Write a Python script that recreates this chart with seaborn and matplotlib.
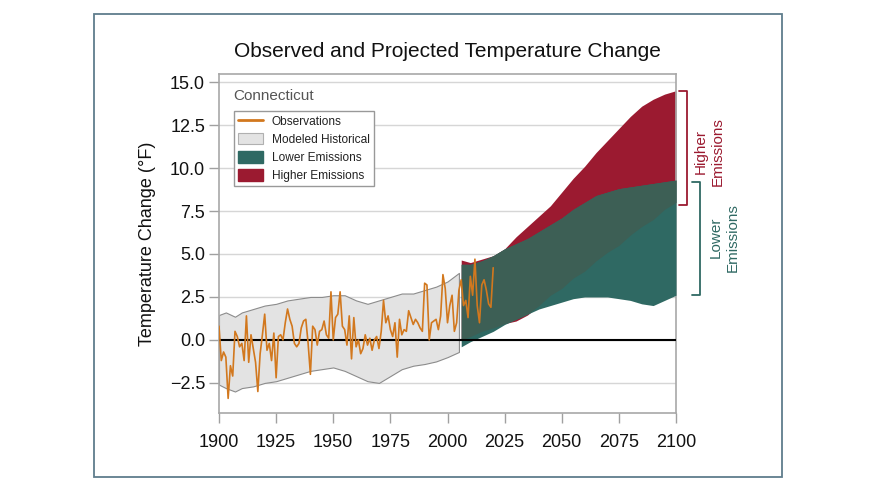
import numpy as np
import pandas as pd
import matplotlib
matplotlib.use("Agg")
import matplotlib.pyplot as plt
from matplotlib.lines import Line2D
from matplotlib.patches import Patch, Rectangle
import seaborn as sns

# observed annual temperature change, Connecticut (deg F)
obs_years = list(range(1900, 2021))
obs_values = [
    0.8, -1.2, -0.7, -1.0, -3.4, -1.5, -2.1, 0.5, 0.2, -0.4,
    -0.2, -1.2, 1.4, -1.3, 0.3, -0.5, -1.3, -3.0, -0.8, 0.3,
    1.5, -0.6, -0.2, -1.2, 0.4, -2.2, 0.2, 0.3, 0.0, 1.0,
    1.8, 1.2, 0.8, -0.2, -0.4, -0.2, 0.7, 1.1, 1.2, -0.2,
    -2.0, 0.8, 0.6, -0.3, 0.5, 0.6, 1.1, 0.3, 0.1, 2.8,
    0.0, 1.3, 1.5, 2.8, 0.8, 0.6, -0.3, 1.4, -1.1, 1.3,
    -0.4, 0.0, -0.8, -0.5, 0.3, -0.3, 0.1, -0.6, 0.0, 0.2,
    -0.5, 0.5, 2.3, 1.0, 1.4, 0.6, 0.2, 1.0, -1.0, 1.2,
    0.3, 0.6, 0.5, 1.7, 1.3, 0.9, 1.2, 1.0, 0.7, 0.5,
    3.3, 3.2, 0.0, 1.0, 1.1, 1.2, 0.6, 1.4, 3.8, 3.0,
    1.0, 2.0, 2.6, 0.5, 1.0, 2.9, 3.5, 2.0, 2.3, 1.3,
    3.7, 2.6, 4.7, 2.0, 1.0, 3.2, 3.5, 2.9, 2.1, 1.9, 4.2,
]

# modeled historical range
hist_years = [1900, 1903, 1907, 1910, 1915, 1920, 1925, 1930, 1935, 1940, 1945, 1950,
              1955, 1960, 1965, 1970, 1975, 1980, 1985, 1990, 1995, 2000, 2005]
hist_upper = [1.45, 1.6, 1.35, 1.6, 1.8, 2.0, 2.1, 2.3, 2.4, 2.5, 2.5, 2.6,
              2.6, 2.3, 2.1, 2.3, 2.5, 2.7, 2.7, 2.9, 3.1, 3.4, 3.9]
hist_lower = [-2.6, -2.8, -3.0, -2.8, -2.7, -2.5, -2.4, -2.2, -2.0, -1.8, -1.7, -1.6,
              -1.8, -2.1, -2.4, -2.5, -2.1, -1.7, -1.5, -1.4, -1.25, -1.0, -0.7]

# projections
proj_years = [2006, 2010, 2015, 2020, 2025, 2030, 2035, 2040, 2045, 2050,
              2055, 2060, 2065, 2070, 2075, 2080, 2085, 2090, 2095, 2100]
higher_upper = [4.65, 4.5, 4.7, 4.9, 5.3, 6.0, 6.6, 7.2, 7.8, 8.6,
                9.4, 10.1, 10.9, 11.6, 12.3, 13.0, 13.6, 14.0, 14.3, 14.5]
higher_lower = [0.0, 0.2, 0.5, 0.7, 0.95, 1.1, 1.45, 2.0, 2.6, 3.0,
                3.6, 4.0, 4.6, 5.1, 5.5, 6.1, 6.6, 7.0, 7.6, 8.0]
lower_upper = [4.4, 4.4, 4.6, 4.9, 5.3, 5.6, 5.9, 6.3, 6.7, 7.1,
               7.6, 8.0, 8.4, 8.6, 8.8, 8.9, 9.0, 9.1, 9.2, 9.3]
lower_lower = [-0.4, -0.1, 0.2, 0.5, 0.9, 1.2, 1.5, 1.8, 2.0, 2.2,
               2.4, 2.5, 2.5, 2.5, 2.4, 2.3, 2.1, 2.0, 2.3, 2.6]

x_ticks = [1900, 1925, 1950, 1975, 2000, 2025, 2050, 2075, 2100]
y_ticks = [-2.5, 0.0, 2.5, 5.0, 7.5, 10.0, 12.5, 15.0]

c_obs = "#d2781e"
c_hist = "#e3e3e3"
c_high = "#9b1a30"
c_low = "#2f6963"
c_both = "#3d5f55"

sns.set_theme(style="white")
plt.rcParams["font.family"] = ["Liberation Sans", "DejaVu Sans"]

fig = plt.figure(figsize=(8.81, 5.01), dpi=100)
ax = fig.add_axes([219 / 881, 1 - 413 / 501, 457 / 881, 339 / 501])

proj = pd.DataFrame({"year": proj_years, "hh": higher_upper, "hl": higher_lower,
                     "lh": lower_upper, "ll": lower_lower})
ax.fill_between(proj["year"], proj["hl"], proj["hh"], color=c_high, lw=0, zorder=2)
ax.fill_between(proj["year"], proj["ll"], proj["lh"], color=c_low, lw=0, zorder=3)
both_lo = np.maximum(proj["ll"], proj["hl"])
both_hi = np.minimum(proj["lh"], proj["hh"])
ax.fill_between(proj["year"], both_lo, both_hi, where=both_hi > both_lo,
                color=c_both, lw=0, zorder=4)

ax.fill_between(hist_years, hist_lower, hist_upper, facecolor=c_hist,
                edgecolor="#8c8c8c", lw=0.8, zorder=2)

ax.axhline(0, color="black", lw=1.5, zorder=5)
sns.lineplot(x=obs_years, y=obs_values, color=c_obs, lw=1.2, ax=ax, zorder=6)

ax.set_xlim(1900, 2100)
ax.set_ylim(-4.25, 15.47)
ax.set_xticks(x_ticks)
ax.set_yticks(y_ticks)
ax.set_yticklabels([f"{v:.1f}".replace("-", "\u2212") for v in y_ticks])
ax.yaxis.grid(True, color="#d6d6d6", lw=1)
ax.set_axisbelow(True)
ax.tick_params(axis="both", direction="out", length=7, width=1, color="#a0a0a0",
               labelsize=13, labelcolor="#111111", pad=3)
ax.tick_params(axis="x", pad=8, bottom=True)
ax.tick_params(axis="y", left=True)
for s in ax.spines.values():
    s.set_color("#a8a8a8")
    s.set_linewidth(1.2)

ax.set_ylabel("Temperature Change (°F)", fontsize=13, color="#111111", labelpad=10)
ax.set_title("Observed and Projected Temperature Change", fontsize=15,
             color="#111111", pad=12)

# legend
ax.text(0.032, 0.935, "Connecticut", transform=ax.transAxes, fontsize=11,
        color="#555555", va="center", ha="left")
handles = [
    Line2D([], [], color=c_obs, lw=2),
    Patch(facecolor=c_hist, edgecolor="#b0b0b0", lw=0.8),
    Patch(facecolor=c_low, edgecolor=c_low),
    Patch(facecolor=c_high, edgecolor=c_high),
]
labels = ["Observations", "Modeled Historical", "Lower Emissions", "Higher Emissions"]
leg = ax.legend(handles, labels, loc="upper left", bbox_to_anchor=(0.033, 0.892),
                frameon=True, fancybox=False, framealpha=1, edgecolor="#999999",
                prop={"size": 8.6}, handlelength=2.1, handleheight=1.1,
                labelspacing=0.45, borderpad=0.35, handletextpad=0.7,
                borderaxespad=0)
leg.get_frame().set_linewidth(1.0)
leg.set_zorder(10)
for t in leg.get_texts():
    t.set_color("#222222")

# brackets on the right
def bracket(x0, x1, lo, hi, color):
    ax.plot([x0, x1, x1, x0], [hi, hi, lo, lo], color=color, lw=1.3,
            clip_on=False, zorder=7)

bracket(2101.3, 2104.8, higher_lower[-1] - 0.15, higher_upper[-1], c_high)
bracket(2107.0, 2110.5, lower_lower[-1], lower_upper[-1] - 0.1, c_low)
ax.text(2114.5, (higher_lower[-1] + higher_upper[-1]) / 2 - 0.3, "Higher\nEmissions",
        rotation=90, ha="center", va="center", fontsize=11, color=c_high,
        linespacing=1.25, clip_on=False)
ax.text(2121.0, (lower_lower[-1] + lower_upper[-1]) / 2, "Lower\nEmissions",
        rotation=90, ha="center", va="center", fontsize=11, color=c_low,
        linespacing=1.25, clip_on=False)

# outer frame
fig.patches.append(Rectangle((94 / 881, 1 - 477 / 501), 688 / 881, 463 / 501,
                             transform=fig.transFigure, fill=False,
                             edgecolor="#5f7d8c", lw=1.3))

fig.savefig("out.png", dpi=100)
